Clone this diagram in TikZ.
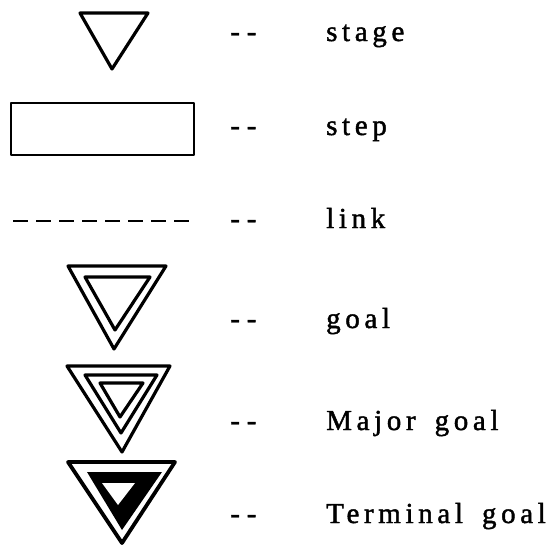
\documentclass[tikz,border=0pt]{standalone}
\usepackage{fontspec}
\newfontfamily\typefont[LetterSpace=16, WordSpace=1.6, FakeBold=1.5]{Liberation Serif}
\usetikzlibrary{positioning}

\begin{document}
\begin{tikzpicture}[x=1pt, y=-1pt,
    txt/.style={inner sep=0pt, anchor=base west, font=\typefont\fontsize{29}{33}\selectfont},
    sym/.style={draw, line width=3.2pt, line join=round},
    linkline/.style={line width=2.6pt, dash pattern=on 15pt off 8pt}
]
\useasboundingbox (0,0) rectangle (557,546);

\draw[sym] (80,13) -- (148,13) -- (112,69) -- cycle;
\draw[sym, line width=2.8pt] (11,103) rectangle (194,155);
\coordinate (linkA) at (13,221);
\coordinate (linkB) at (190,221);
\draw[linkline] (linkA) -- (linkB);

\draw[sym] (68,266) -- (166,266) -- (114,349) -- cycle;
\draw[sym] (85,277) -- (150,277) -- (115,330) -- cycle;

\draw[sym] (67,366) -- (170,366) -- (122,452) -- cycle;
\draw[sym] (85,375) -- (157,375) -- (121,433) -- cycle;
\draw[sym] (100,383) -- (143,383) -- (120,417) -- cycle;

\draw[sym, line width=3.8pt] (68,462) -- (175,462) -- (122,543) -- cycle;
\fill (87,472) -- (162,472) -- (122,530) -- cycle;
\fill[white] (102,483) -- (135,483) -- (118,505) -- cycle;

\node[txt] (dStage) at (230,41) {-\kern7pt-};
\node[txt] (dStep) at (230,135) {-\kern7pt-};
\node[txt] (dLink) at (230,228) {-\kern7pt-};
\node[txt] (dGoal) at (230,328) {-\kern7pt-};
\node[txt] (dMajor) at (230,430) {-\kern7pt-};
\node[txt] (dTerm) at (230,523) {-\kern7pt-};

\node[txt] (lStage) at (326,41) {stage};
\node[txt] (lStep) at (326,135) {step};
\node[txt] (lLink) at (326,228) {link};
\node[txt] (lGoal) at (326,328) {goal};
\node[txt] (lMajor) at (326,430) {Major goal};
\node[txt] (lTerm) at (326,523) {Terminal goal};
\end{tikzpicture}
\end{document}
